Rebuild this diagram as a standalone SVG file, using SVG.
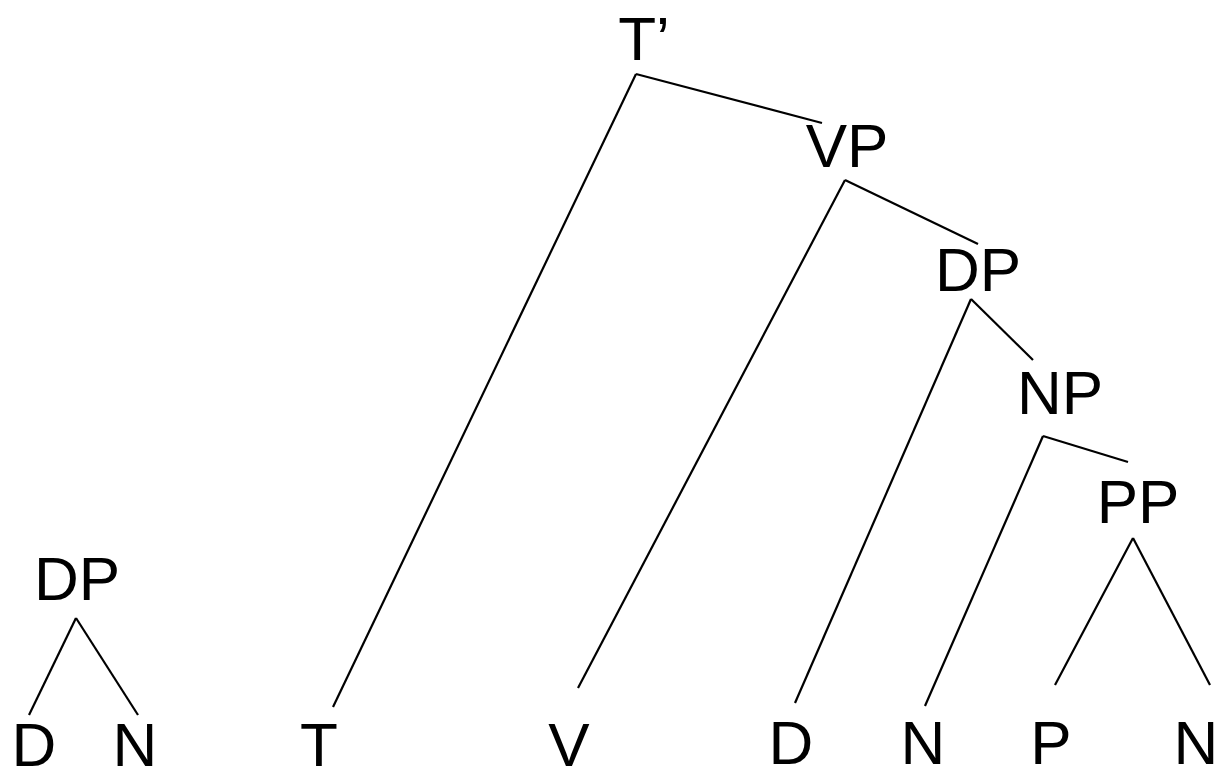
<svg xmlns="http://www.w3.org/2000/svg" width="1219" height="781" viewBox="0 0 1219 781">
<style>
text{font-family:"Liberation Sans","Open Sans",sans-serif;font-size:62px;fill:#000;text-anchor:middle}
.e line{stroke:#000;stroke-width:2.2;stroke-linecap:butt}
</style>
<rect width="1219" height="781" fill="#fff"/>
<g class="e" id="connectors">
<line x1="636" y1="74" x2="333" y2="707"/>
<line x1="636" y1="74" x2="822" y2="123"/>
<line x1="845" y1="180" x2="578" y2="688"/>
<line x1="845" y1="180" x2="978" y2="244"/>
<line x1="971" y1="299" x2="795" y2="703"/>
<line x1="971" y1="299" x2="1033" y2="360"/>
<line x1="1043" y1="436" x2="925" y2="706"/>
<line x1="1043" y1="436" x2="1128" y2="462"/>
<line x1="1133" y1="538" x2="1055" y2="685"/>
<line x1="1133" y1="538" x2="1210" y2="685"/>
<line x1="76" y1="618" x2="29" y2="715"/>
<line x1="76" y1="618" x2="138" y2="715"/>
</g>
<g id="n-tbar"><text x="644" y="60">T’</text></g>
<g id="n-vp"><text x="847" y="167">VP</text></g>
<g id="n-dp"><text x="978" y="291">DP</text></g>
<g id="n-np"><text x="1060" y="414">NP</text></g>
<g id="n-pp"><text x="1138" y="523">PP</text></g>
<g id="n-dp2"><text x="77" y="600">DP</text></g>
<g id="n-d2"><text x="34" y="766">D</text></g>
<g id="n-n2"><text x="135" y="766">N</text></g>
<g id="n-t"><text x="319" y="766">T</text></g>
<g id="n-v"><text x="569" y="766">V</text></g>
<g id="n-d"><text x="791" y="764">D</text></g>
<g id="n-n"><text x="923" y="764">N</text></g>
<g id="n-p"><text x="1051" y="764">P</text></g>
<g id="n-n3"><text x="1196" y="764">N</text></g>
</svg>
